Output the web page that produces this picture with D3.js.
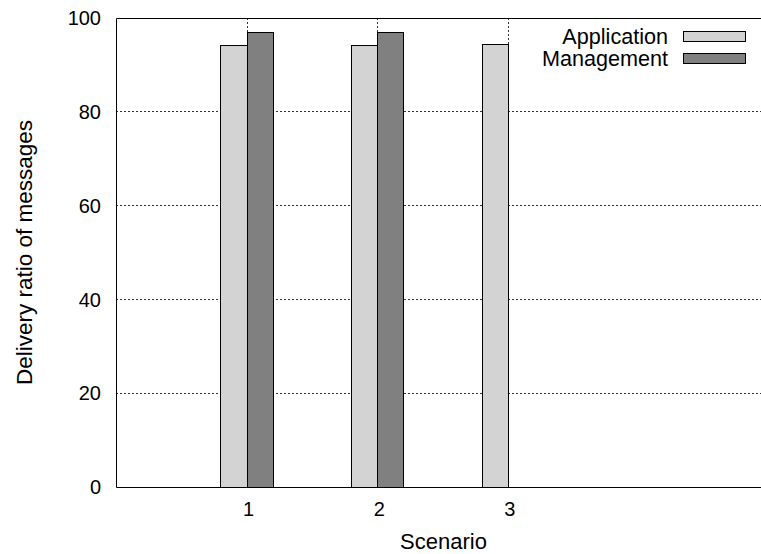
<!DOCTYPE html>
<html>
<head>
<meta charset="utf-8">
<script src="https://cdn.jsdelivr.net/npm/d3@7"></script>
<style>
  body { margin: 0; background: #fff; }
  svg { display: block; font-family: "Liberation Sans", Arial, sans-serif; }
</style>
</head>
<body>
<div id="chart"></div>
<script>
// data
const scenarios = [1, 2, 3];
const seriesNames = ['Application', 'Management'];
const application = [94.2, 94.2, 94.5];
const management = [97.0, 97.0, null];
const yTicks = [0, 20, 40, 60, 80, 100];

const colors = { Application: '#d3d3d3', Management: '#808080' };

const width = 761, height = 554;
const m = { left: 116, top: 18, right: 769, bottom: 487 };

const svg = d3.select('#chart').append('svg')
  .attr('width', width)
  .attr('height', height);

// x range goes 0..5, right edge falls outside the picture
const x = d3.scaleLinear().domain([0, 5]).range([m.left, m.right]);
const y = d3.scaleLinear().domain([0, 100]).range([m.bottom, m.top]);

// grid
const grid = svg.append('g');
grid.selectAll('line.h')
  .data(yTicks.filter(d => d > 0 && d < 100))
  .enter().append('line')
  .attr('x1', m.left).attr('x2', m.right)
  .attr('y1', d => y(d)).attr('y2', d => y(d))
  .attr('stroke', '#333').attr('stroke-width', 1)
  .attr('stroke-dasharray', '2,2')
  .attr('shape-rendering', 'crispEdges');
grid.selectAll('line.v')
  .data(scenarios)
  .enter().append('line')
  .attr('x1', d => Math.round(x(d)) + 0.5).attr('x2', d => Math.round(x(d)) + 0.5)
  .attr('y1', m.top).attr('y2', m.bottom)
  .attr('stroke', '#333').attr('stroke-width', 1)
  .attr('stroke-dasharray', '2,2');

// bars
const bw = 0.2;
const rows = [];
scenarios.forEach((s, i) => {
  rows.push({ s, v: application[i], name: 'Application', off: -bw });
  if (management[i] != null) rows.push({ s, v: management[i], name: 'Management', off: 0 });
});
svg.append('g').selectAll('rect')
  .data(rows)
  .enter().append('rect')
  .attr('x', d => Math.round(x(d.s + d.off)) + 0.5)
  .attr('width', d => Math.round(x(d.s + d.off + bw)) - Math.round(x(d.s + d.off)))
  .attr('y', d => Math.round(y(d.v)) + 0.5)
  .attr('height', d => Math.round(y(0)) - Math.round(y(d.v)))
  .attr('fill', d => colors[d.name])
  .attr('stroke', '#000').attr('stroke-width', 1);

// border (left, top, bottom)
svg.append('path')
  .attr('d', `M${m.right},${m.top + 0.5}H${m.left + 0.5}V${m.bottom + 0.5}H${m.right}`)
  .attr('fill', 'none').attr('stroke', '#000').attr('stroke-width', 1);

// y tick labels
svg.append('g').selectAll('text')
  .data(yTicks)
  .enter().append('text')
  .attr('x', 101).attr('y', d => y(d))
  .attr('dy', '0.36em')
  .attr('text-anchor', 'end')
  .attr('font-size', 20)
  .text(d => d);

// x tick labels
svg.append('g').selectAll('text')
  .data(scenarios)
  .enter().append('text')
  .attr('x', d => x(d) + 2).attr('y', 516)
  .attr('text-anchor', 'middle')
  .attr('font-size', 20)
  .text(d => d);

// axis titles
svg.append('text')
  .attr('x', (m.left + m.right) / 2 + 1).attr('y', 549)
  .attr('text-anchor', 'middle').attr('font-size', 22)
  .text('Scenario');
svg.append('text')
  .attr('transform', `translate(32,${(m.top + m.bottom) / 2}) rotate(-90)`)
  .attr('text-anchor', 'middle').attr('font-size', 22.5)
  .text('Delivery ratio of messages');

// legend
const leg = svg.append('g');
seriesNames.forEach((n, i) => {
  const cy = 36 + i * 22;
  leg.append('text')
    .attr('x', 668).attr('y', cy).attr('dy', '0.36em')
    .attr('text-anchor', 'end').attr('font-size', 21.6)
    .text(n);
  leg.append('rect')
    .attr('x', 683.5).attr('y', cy - 4.5)
    .attr('width', 62).attr('height', 10)
    .attr('fill', colors[n]).attr('stroke', '#000');
});
</script>
</body>
</html>
